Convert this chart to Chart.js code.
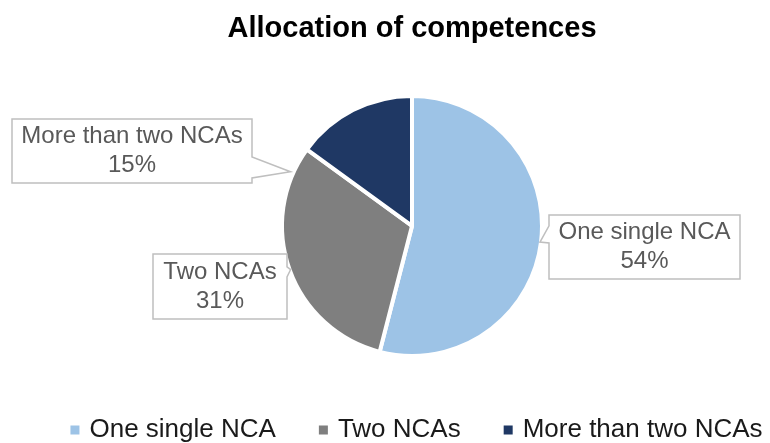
<!DOCTYPE html>
<html>
<head>
<meta charset="utf-8">
<script src="https://cdn.jsdelivr.net/npm/chart.js@4"></script>
<style>
  html, body { margin: 0; padding: 0; background: #ffffff; }
  #wrap { width: 770px; height: 443px; position: relative; }
</style>
</head>
<body>
<div id="wrap"><canvas id="c"></canvas></div>
<script>
// ---- data ----
const categories = ['One single NCA', 'Two NCAs', 'More than two NCAs'];
const shares = [54, 31, 15];
const chartTitle = 'Allocation of competences';

// ---- styling / layout (not data) ----
const sliceColors = ['#9DC3E6', '#7F7F7F', '#1F3864'];
const FONT = '"Liberation Sans", Arial, Helvetica, sans-serif';

// callout boxes: offset of box centre from pie centre, size, side of pointer,
// pointer base (from box top), pointer angle (deg, null = slice middle), tip radius extra
const callouts = [
  { dx: 232.5, dy: 21,   w: 191, h: 64, side: 'left',  b1: 11, b2: 28, angle: null, extra: 1 },
  { dx: -192,  dy: 60.5, w: 134, h: 65, side: 'right', b1: 13, b2: 23, angle: null, extra: 1 },
  { dx: -280,  dy: -75,  w: 240, h: 64, side: 'right', b1: 38, b2: 59, angle: 204,  extra: 5 }
];

const calloutPlugin = {
  id: 'callouts',
  afterDatasetsDraw(chart) {
    const meta = chart.getDatasetMeta(0);
    const ctx = chart.ctx;
    meta.data.forEach((arc, i) => {
      const c = callouts[i];
      if (!c) return;
      const p = arc.getProps(['x', 'y', 'startAngle', 'endAngle', 'outerRadius'], true);
      const ang = c.angle === null ? (p.startAngle + p.endAngle) / 2 : c.angle * Math.PI / 180;
      const r = p.outerRadius - 2 + c.extra;
      const tx = p.x + Math.cos(ang) * r;
      const ty = p.y + Math.sin(ang) * r;
      const cx = p.x + c.dx, cy = p.y + c.dy;
      const L = cx - c.w / 2, R = cx + c.w / 2, T = cy - c.h / 2, B = cy + c.h / 2;
      ctx.save();
      ctx.beginPath();
      if (c.side === 'right') {
        ctx.moveTo(L, T); ctx.lineTo(R, T);
        ctx.lineTo(R, T + c.b1); ctx.lineTo(tx, ty); ctx.lineTo(R, T + c.b2);
        ctx.lineTo(R, B); ctx.lineTo(L, B); ctx.closePath();
      } else {
        ctx.moveTo(L, T); ctx.lineTo(R, T); ctx.lineTo(R, B); ctx.lineTo(L, B);
        ctx.lineTo(L, T + c.b2); ctx.lineTo(tx, ty); ctx.lineTo(L, T + c.b1);
        ctx.closePath();
      }
      ctx.fillStyle = '#ffffff';
      ctx.fill();
      ctx.lineWidth = 1.5;
      ctx.strokeStyle = '#BFBFBF';
      ctx.lineJoin = 'miter';
      ctx.stroke();
      ctx.fillStyle = '#595959';
      ctx.font = '24px ' + FONT;
      ctx.textAlign = 'center';
      ctx.textBaseline = 'middle';
      ctx.fillText(categories[i], cx, cy - 14.5);
      ctx.fillText(shares[i] + '%', cx, cy + 14.5);
      ctx.restore();
    });
  }
};

// bottom legend built from the chart's own labels and colours
const legendStyle = { centerX: 416.5, y: 430, box: 9, boxGap: 10, itemGap: 43, size: 26, color: '#1a1a1a' };
const bottomLegend = {
  id: 'bottomLegend',
  afterDraw(chart) {
    const ctx = chart.ctx;
    const s = legendStyle;
    const labels = chart.data.labels;
    const colors = chart.data.datasets[0].backgroundColor;
    ctx.save();
    ctx.font = s.size + 'px ' + FONT;
    const widths = labels.map(t => ctx.measureText(t).width);
    const total = widths.reduce((a, w) => a + s.box + s.boxGap + w, 0) + s.itemGap * (labels.length - 1);
    let x = s.centerX - total / 2;
    ctx.textBaseline = 'middle';
    ctx.textAlign = 'left';
    labels.forEach((t, i) => {
      ctx.fillStyle = colors[i];
      ctx.fillRect(x, s.y - s.box / 2, s.box, s.box);
      x += s.box + s.boxGap;
      ctx.fillStyle = s.color;
      ctx.fillText(t, x, s.y);
      x += widths[i] + s.itemGap;
    });
    ctx.restore();
  }
};

Chart.defaults.font.family = FONT;

new Chart(document.getElementById('c'), {
  type: 'pie',
  data: {
    labels: categories,
    datasets: [{
      data: shares,
      backgroundColor: sliceColors,
      borderColor: '#ffffff',
      borderWidth: 4,
      radius: 130
    }]
  },
  options: {
    responsive: true,
    maintainAspectRatio: false,
    animation: false,
    layout: { padding: { left: 54, right: 0, top: 0, bottom: 70 } },
    plugins: {
      title: {
        display: true,
        text: chartTitle,
        color: '#000000',
        font: { size: 29, weight: 'bold', family: FONT },
        padding: { top: 12, bottom: 32 }
      },
      legend: { display: false },
      tooltip: { enabled: false }
    }
  },
  plugins: [calloutPlugin, bottomLegend]
});
</script>
</body>
</html>
